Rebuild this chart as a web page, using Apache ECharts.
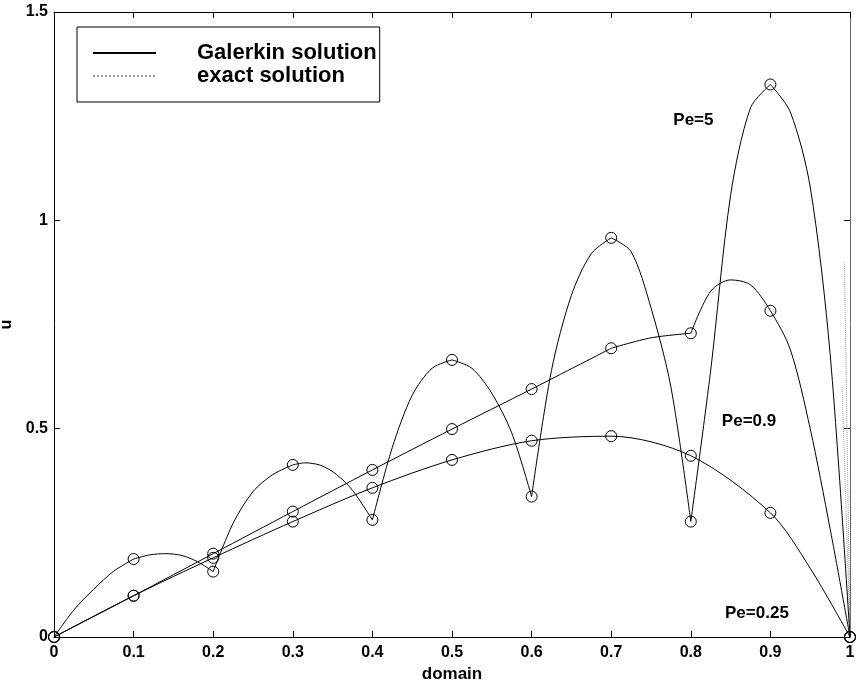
<!DOCTYPE html>
<html>
<head>
<meta charset="utf-8">
<script src="https://cdn.jsdelivr.net/npm/echarts@6/dist/echarts.min.js"></script>
<style>
html,body{margin:0;padding:0;background:#fff;}
#chart{width:857px;height:684px;}
</style>
</head>
<body>
<div id="chart"></div>
<script>
// ---- data ----
const nodeX = [0, 0.1, 0.2, 0.3, 0.4, 0.5, 0.6, 0.7, 0.8, 0.9, 1];
const pe025Nodes = [0, 0.099, 0.19, 0.277, 0.358, 0.425, 0.471, 0.482, 0.435, 0.298, 0];
const pe09Nodes  = [0, 0.099, 0.2, 0.301, 0.401, 0.499, 0.595, 0.693, 0.729, 0.783, 0];
const pe5Nodes   = [0, 0.187, 0.157, 0.413, 0.281, 0.665, 0.337, 0.958, 0.277, 1.326, 0];

// Galerkin curves, one list per element (read between the nodes)
const pe5Curve = [
  [[0,0],[0.025,0.065],[0.05,0.115],[0.075,0.158],[0.1,0.187]],
  [[0.1,0.187],[0.12,0.197],[0.14,0.2],[0.16,0.196],[0.18,0.181],[0.2,0.157]],
  [[0.2,0.157],[0.225,0.273],[0.25,0.349],[0.275,0.39],[0.3,0.413]],
  [[0.3,0.413],[0.315,0.418],[0.335,0.412],[0.355,0.39],[0.375,0.352],[0.4,0.281]],
  [[0.4,0.281],[0.425,0.455],[0.45,0.58],[0.475,0.645],[0.5,0.665]],
  [[0.5,0.665],[0.525,0.645],[0.55,0.585],[0.575,0.49],[0.6,0.337]],
  [[0.6,0.337],[0.625,0.64],[0.65,0.82],[0.675,0.92],[0.7,0.958]],
  [[0.7,0.958],[0.725,0.925],[0.75,0.79],[0.775,0.6],[0.8,0.277]],
  [[0.8,0.277],[0.825,0.64],[0.85,1.06],[0.875,1.27],[0.9,1.326]],
  [[0.9,1.326],[0.925,1.26],[0.95,1.08],[0.975,0.68],[1,0]]
];
const pe09Curve = [
  [[0,0],[0.1,0.099],[0.2,0.2],[0.3,0.301],[0.4,0.401],[0.5,0.499],[0.6,0.595],[0.7,0.693]],
  [[0.7,0.693],[0.75,0.718],[0.8,0.729]],
  [[0.8,0.729],[0.825,0.83],[0.85,0.857],[0.875,0.845],[0.9,0.783],[0.925,0.69],[0.95,0.5],[0.975,0.26],[1,0]]
];
const pe025Curve = [
  [[0,0],[0.1,0.099],[0.2,0.19],[0.3,0.277],[0.4,0.358],[0.5,0.425],[0.6,0.471],[0.7,0.482],[0.8,0.435],[0.9,0.298],[0.95,0.165],[1,0]]
];
// exact solutions (dotted), visible only as the steep layers at x = 1
const exactCurve = [
  [[0.993,0.9],[0.997,0.4],[1,0]],
  [[0.99,0.6],[0.996,0.25],[1,0]]
];

const peLabelText = ['Pe=5', 'Pe=0.9', 'Pe=0.25'];
const peLabelX = [0.778, 0.839, 0.843];
const peLabelY = [1.241, 0.518, 0.058];

const legendNames = ['Galerkin solution', 'exact solution'];

// ---- build ----
function joinSegments(segs) {
  const out = [];
  segs.forEach((s, i) => {
    if (i > 0) out.push('-');
    s.forEach(p => out.push(p));
  });
  return out;
}
function nodePairs(vals) { return nodeX.map((x, i) => [x, vals[i]]); }

const FONT = 'Liberation Sans, Arial, Helvetica, sans-serif';

const curveSeries = (name, segs, style) => ({
  type: 'line', name: name, data: joinSegments(segs),
  smooth: 0.3, symbol: 'none', showSymbol: false, connectNulls: false,
  itemStyle: { color: style.color },
  lineStyle: style, z: 3, silent: true
});
const nodeSeries = (vals) => ({
  type: 'scatter', name: 'nodes', data: nodePairs(vals),
  symbol: 'circle', symbolSize: 11,
  itemStyle: { color: 'rgba(0,0,0,0)', borderColor: '#000', borderWidth: 1, opacity: 1 },
  z: 5, silent: true
});

const galStyle = { color: '#000', width: 1 };
const exStyle = { color: '#9a9a9a', width: 1, type: 'dotted' };

const series = [
  curveSeries(legendNames[1], exactCurve, exStyle),
  curveSeries(legendNames[0], pe025Curve, galStyle),
  curveSeries(legendNames[0], pe09Curve, galStyle),
  curveSeries(legendNames[0], pe5Curve, galStyle),
  nodeSeries(pe025Nodes),
  nodeSeries(pe09Nodes),
  nodeSeries(pe5Nodes),
  {
    type: 'scatter', name: 'labels',
    data: peLabelText.map((t, i) => ({ value: [peLabelX[i], peLabelY[i]], name: t })),
    symbolSize: 0, silent: true, z: 6,
    itemStyle: { opacity: 1, color: '#000' },
    label: {
      show: true, position: [0, 0], align: 'left', verticalAlign: 'middle',
      formatter: p => p.name, opacity: 1,
      fontFamily: FONT, fontSize: 17, fontWeight: 'bold', color: '#000'
    }
  }
];

const fmt = v => String(+(+v).toFixed(2));

const axisCommon = {
  type: 'value', min: 0,
  axisLine: { show: true, onZero: false, lineStyle: { color: '#000', width: 1 } },
  axisTick: { show: true, inside: true, length: 6, lineStyle: { color: '#000', width: 1 } },
  splitLine: { show: false }
};

const chart = echarts.init(document.getElementById('chart'), null, { renderer: 'canvas' });
chart.setOption({
  animation: false,
  backgroundColor: '#fff',
  grid: { left: 54, right: 7, top: 12, bottom: 47, containLabel: false, outerBoundsMode: 'none' },
  legend: {
    left: 77, top: 27, orient: 'vertical',
    data: legendNames,
    selectedMode: false,
    itemWidth: 63, itemHeight: 12, itemGap: 1,
    padding: [15, 3, 15, 15],
    borderColor: '#000', borderWidth: 1, borderRadius: 0,
    backgroundColor: '#fff',
    itemStyle: { opacity: 0 },
    textStyle: { fontFamily: FONT, fontSize: 22, fontWeight: 'bold', color: '#000', lineHeight: 18, padding: [0, 0, 0, 36] }
  },
  xAxis: [
    Object.assign({}, axisCommon, {
      max: 1, interval: 0.1, position: 'bottom',
      name: 'domain', nameLocation: 'middle', nameGap: 27,
      nameTextStyle: { fontFamily: FONT, fontSize: 17, fontWeight: 'bold', color: '#000' },
      axisLabel: { show: true, margin: 8, formatter: fmt, fontFamily: FONT, fontSize: 16, fontWeight: 'bold', color: '#000' }
    }),
    Object.assign({}, axisCommon, {
      max: 1, interval: 0.1, position: 'top', axisLabel: { show: false }
    })
  ],
  yAxis: [
    Object.assign({}, axisCommon, {
      max: 1.5, interval: 0.5, position: 'left',
      name: 'u', nameLocation: 'middle', nameGap: 36, nameRotate: 90,
      nameTextStyle: { fontFamily: FONT, fontSize: 16, fontWeight: 'bold', color: '#000' },
      axisLabel: { show: true, margin: 6, formatter: fmt, fontFamily: FONT, fontSize: 16, fontWeight: 'bold', color: '#000' }
    }),
    Object.assign({}, axisCommon, {
      max: 1.5, interval: 0.5, position: 'right', axisLabel: { show: false },
      axisLine: { show: true, onZero: false, lineStyle: { color: '#666', width: 1 } }
    })
  ],
  series: series
});
</script>
</body>
</html>
